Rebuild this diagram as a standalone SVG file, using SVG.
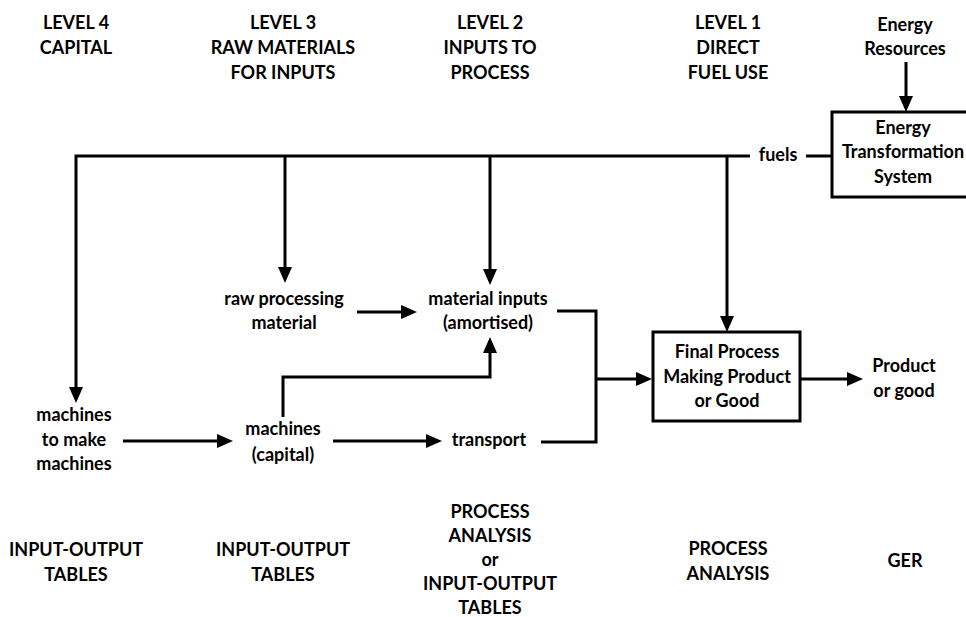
<svg xmlns="http://www.w3.org/2000/svg" width="966" height="617" viewBox="0 0 966 617">
<style>
text{font-family:Lato,"Liberation Sans",sans-serif;font-weight:bold;font-size:18px;fill:#000;text-anchor:middle}
.c{fill:none;stroke:#000;stroke-width:3}
.b{fill:#fff;stroke:#000;stroke-width:3}
</style>
<defs>
<marker id="ah" markerUnits="userSpaceOnUse" markerWidth="18" markerHeight="16" refX="12" refY="7" orient="auto">
<path d="M0,0 L16,7 L0,14 z" fill="#000"/>
</marker>
</defs>
<rect width="966" height="617" fill="#fff"/>
<g id="headers">
<text x="76" y="29">LEVEL 4</text><text x="76" y="54">CAPITAL</text>
<text x="283" y="29">LEVEL 3</text><text x="283" y="54">RAW MATERIALS</text><text x="283" y="79">FOR INPUTS</text>
<text x="490" y="29">LEVEL 2</text><text x="490" y="54">INPUTS TO</text><text x="490" y="79">PROCESS</text>
<text x="728" y="29">LEVEL 1</text><text x="728" y="54">DIRECT</text><text x="728" y="79">FUEL USE</text>
</g>
<g id="footers">
<text x="76" y="556">INPUT-OUTPUT</text><text x="76" y="581">TABLES</text>
<text x="283" y="556">INPUT-OUTPUT</text><text x="283" y="581">TABLES</text>
<text x="490" y="518">PROCESS</text><text x="490" y="542">ANALYSIS</text><text x="490" y="566">or</text><text x="490" y="590">INPUT-OUTPUT</text><text x="490" y="614">TABLES</text>
<text x="728" y="555">PROCESS</text><text x="728" y="580">ANALYSIS</text>
<text x="905" y="567">GER</text>
</g>
<g id="connectors">
<path class="c" d="M750,156 H76 V399" marker-end="url(#ah)"/>
<path class="c" d="M806,156 H832"/>
<path class="c" d="M285,156 V279" marker-end="url(#ah)"/>
<path class="c" d="M490,156 V281" marker-end="url(#ah)"/>
<path class="c" d="M727,156 V328" marker-end="url(#ah)"/>
<path class="c" d="M906,62 V108" marker-end="url(#ah)"/>
<path class="c" d="M357,312 H413" marker-end="url(#ah)"/>
<path class="c" d="M123,441 H229" marker-end="url(#ah)"/>
<path class="c" d="M333,441 H438" marker-end="url(#ah)"/>
<path class="c" d="M283,417 V377 H490 V341" marker-end="url(#ah)"/>
<path class="c" d="M557,311 H596 V442 H541"/>
<path class="c" d="M596,379 H648" marker-end="url(#ah)"/>
<path class="c" d="M800,379 H859" marker-end="url(#ah)"/>
</g>
<g id="energy-resources"><text x="905" y="31">Energy</text><text x="905" y="55">Resources</text></g>
<g id="fuels"><text x="778" y="161">fuels</text></g>
<g id="energy-transformation">
<rect class="b" x="832" y="112" width="150" height="85"/>
<text x="903" y="134">Energy</text><text x="903" y="158">Transformation</text><text x="903" y="183">System</text>
</g>
<g id="raw-processing"><text x="284" y="305">raw processing</text><text x="284" y="329">material</text></g>
<g id="material-inputs"><text x="488" y="305">material inputs</text><text x="488" y="329">(amortised)</text></g>
<g id="machines-to-make"><text x="74" y="421">machines</text><text x="74" y="446">to make</text><text x="74" y="470">machines</text></g>
<g id="machines-capital"><text x="283" y="435">machines</text><text x="283" y="461">(capital)</text></g>
<g id="transport"><text x="489" y="446">transport</text></g>
<g id="final-process">
<rect class="b" x="653" y="332" width="147" height="89"/>
<text x="727" y="358">Final Process</text><text x="727" y="383">Making Product</text><text x="727" y="407">or Good</text>
</g>
<g id="product"><text x="904" y="372">Product</text><text x="904" y="397">or good</text></g>
</svg>
